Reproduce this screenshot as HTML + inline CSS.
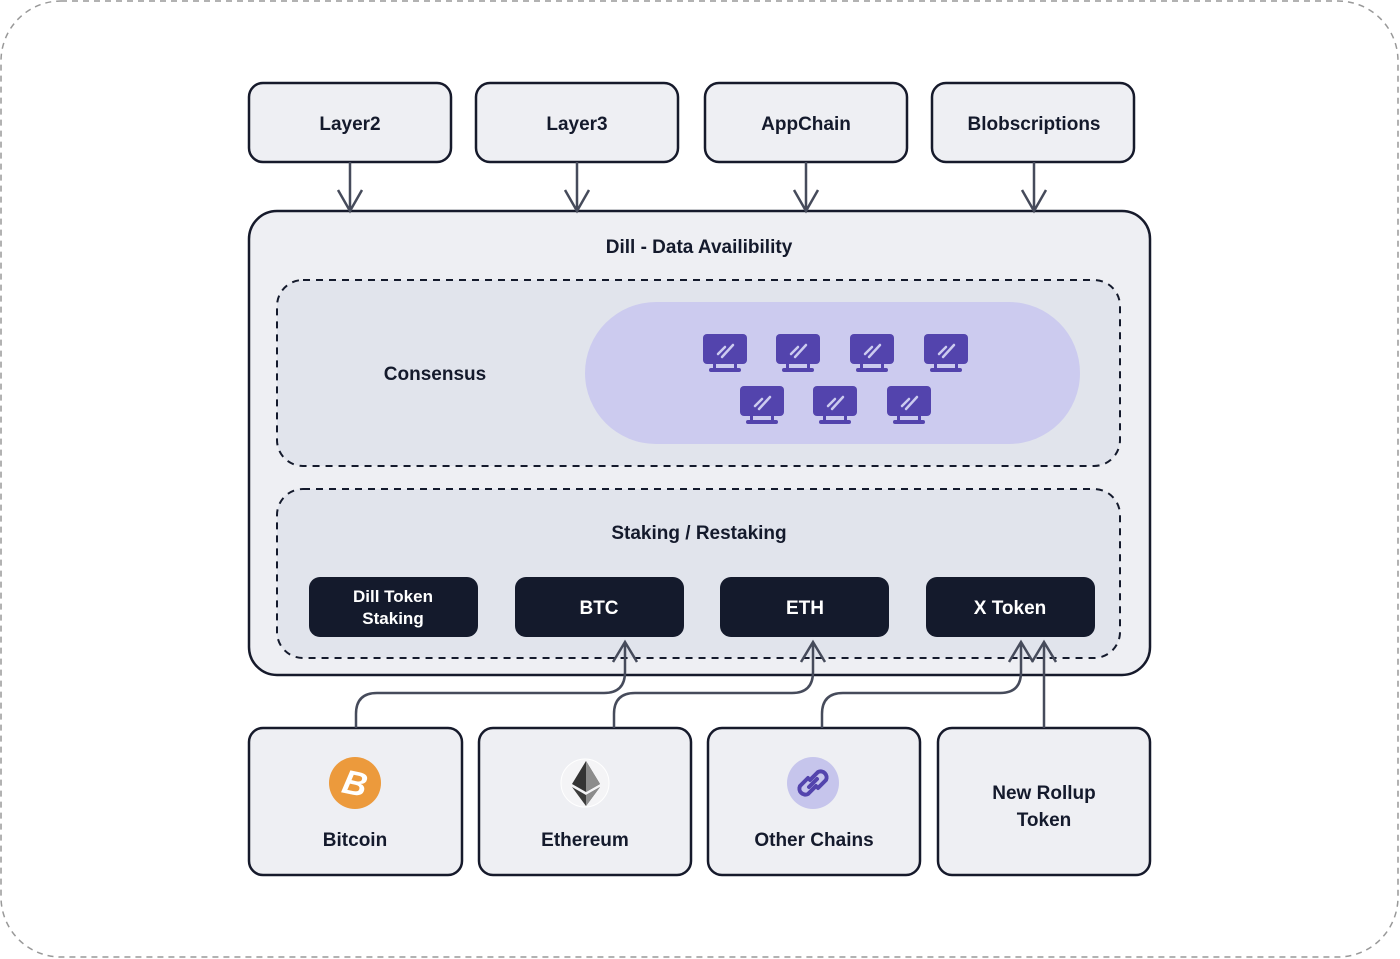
<!DOCTYPE html>
<html><head><meta charset="utf-8"><style>
html,body{margin:0;padding:0;background:#fff;}
svg{display:block;}
text{font-family:"Liberation Sans",sans-serif;font-weight:bold;fill:#141a2c;}
</style></head><body>
<svg width="1400" height="959" viewBox="0 0 1400 959" xmlns="http://www.w3.org/2000/svg">
<defs>
<g id="mon">
<rect x="-22" y="-17" width="44" height="30" rx="4" fill="#5344ad"/>
<rect x="-12" y="13" width="3" height="5" fill="#5344ad"/>
<rect x="9" y="13" width="3" height="5" fill="#5344ad"/>
<rect x="-16" y="17" width="32" height="4" rx="2" fill="#5344ad"/>
<line x1="-7" y1="3" x2="0" y2="-4" stroke="#cccbef" stroke-width="2.5" stroke-linecap="round"/>
<line x1="-3" y1="6" x2="8" y2="-6" stroke="#cccbef" stroke-width="2.5" stroke-linecap="round"/>
</g>
</defs>
<rect x="1" y="1" width="1397" height="956" rx="60" fill="#fff" stroke="#999" stroke-width="1.5" stroke-dasharray="6,5"/>

<g fill="#eeeff3" stroke="#161a2b" stroke-width="2.5">
<rect x="249" y="83" width="202" height="79" rx="14"/>
<rect x="476" y="83" width="202" height="79" rx="14"/>
<rect x="705" y="83" width="202" height="79" rx="14"/>
<rect x="932" y="83" width="202" height="79" rx="14"/>
<rect x="249" y="211" width="901" height="464" rx="28"/>
<rect x="249" y="728" width="213" height="147" rx="14"/>
<rect x="479" y="728" width="212" height="147" rx="14"/>
<rect x="708" y="728" width="212" height="147" rx="14"/>
<rect x="938" y="728" width="212" height="147" rx="14"/>
</g>
<g font-size="19" text-anchor="middle">
<text x="350" y="130">Layer2</text>
<text x="577" y="130">Layer3</text>
<text x="806" y="130">AppChain</text>
<text x="1034" y="130">Blobscriptions</text>
<text x="699" y="253">Dill - Data Availibility</text>
</g>
<g stroke="#464b5b" stroke-width="2.5" fill="none">
<path d="M350 162V211M338 190L350 211L362 190"/>
<path d="M577 162V211M565 190L577 211L589 190"/>
<path d="M806 162V211M794 190L806 211L818 190"/>
<path d="M1034 162V211M1022 190L1034 211L1046 190"/>
</g>

<rect x="277" y="280" width="843" height="186" rx="26" fill="#e1e4ec" stroke="#141a2c" stroke-width="2" stroke-dasharray="7,6"/>
<rect x="585" y="302" width="495" height="142" rx="71" fill="#cccbef"/>
<text x="435" y="380" font-size="19" text-anchor="middle">Consensus</text>
<use href="#mon" x="725" y="351"/>
<use href="#mon" x="798" y="351"/>
<use href="#mon" x="872" y="351"/>
<use href="#mon" x="946" y="351"/>
<use href="#mon" x="762" y="403"/>
<use href="#mon" x="835" y="403"/>
<use href="#mon" x="909" y="403"/>

<rect x="277" y="489" width="843" height="169" rx="26" fill="#e1e4ec" stroke="#141a2c" stroke-width="2" stroke-dasharray="7,6"/>
<text x="699" y="539" font-size="19" text-anchor="middle">Staking / Restaking</text>
<g fill="#141a2c">
<rect x="309" y="577" width="169" height="60" rx="11"/>
<rect x="515" y="577" width="169" height="60" rx="11"/>
<rect x="720" y="577" width="169" height="60" rx="11"/>
<rect x="926" y="577" width="169" height="60" rx="11"/>
</g>
<g font-size="17" text-anchor="middle" style="fill:#fff">
<text x="393" y="602" style="fill:#fff">Dill Token</text>
<text x="393" y="624" style="fill:#fff">Staking</text>
<text x="599" y="614" font-size="19" style="fill:#fff">BTC</text>
<text x="805" y="614" font-size="19" style="fill:#fff">ETH</text>
<text x="1010" y="614" font-size="19" style="fill:#fff">X Token</text>
</g>

<g stroke="#464b5b" stroke-width="2.5" fill="none">
<path d="M356 728V714Q356 693 377 693H604Q625 693 625 672V642M613 662L625 642L637 662"/>
<path d="M614 728V714Q614 693 635 693H792Q813 693 813 672V642M801 662L813 642L825 662"/>
<path d="M822 728V714Q822 693 843 693H1000Q1021 693 1021 672V642M1009 662L1021 642L1033 662"/>
<path d="M1044 728V642M1032 662L1044 642L1056 662"/>
</g>

<circle cx="355" cy="783" r="26" fill="#ec9a3c"/>
<text x="355" y="795" font-size="34" text-anchor="middle" style="fill:#fff;font-style:italic" transform="rotate(12 355 783)">B</text>
<circle cx="585" cy="783" r="24" fill="#f4f4f6" stroke="#fff"/>
<polygon points="586,761 572,784 586,792 600,784" fill="#343434"/>
<polygon points="586,761 586,792 600,784" fill="#8c8c8c"/>
<polygon points="572,787 586,806 600,787 586,795" fill="#3c3c3b"/>
<polygon points="586,795 586,806 600,787" fill="#8c8c8c"/>
<circle cx="813" cy="783" r="26" fill="#c6c5ec"/>
<g stroke="#5344ad" stroke-width="4" fill="none" stroke-linecap="round">
<path d="M810 780l8-8a6 6 0 0 1 8 8l-8 8"/>
<path d="M816 786l-8 8a6 6 0 0 1-8-8l8-8"/>
<path d="M809 787l8-8"/>
</g>
<g font-size="19" text-anchor="middle">
<text x="355" y="846">Bitcoin</text>
<text x="585" y="846">Ethereum</text>
<text x="814" y="846">Other Chains</text>
<text x="1044" y="799">New Rollup</text>
<text x="1044" y="826">Token</text>
</g>
</svg>
</body></html>
